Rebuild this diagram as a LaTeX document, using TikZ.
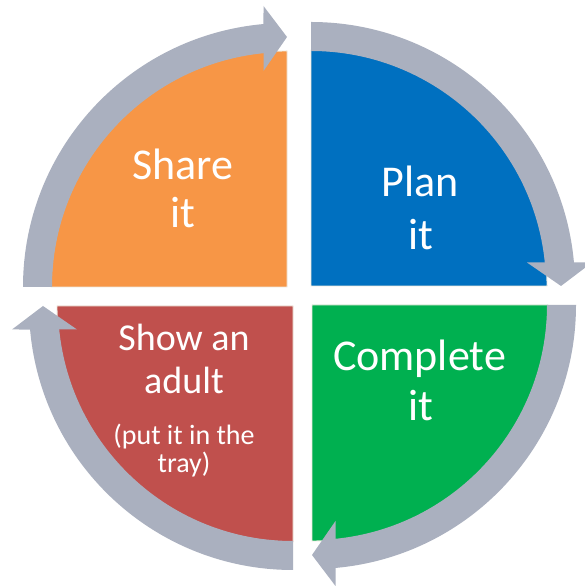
\documentclass[tikz,border=0pt]{standalone}
\usepackage{fontspec}
\setmainfont{Carlito}
\usetikzlibrary{calc}
\definecolor{cOrange}{RGB}{247,150,70}
\definecolor{cBlue}{RGB}{0,112,192}
\definecolor{cGreen}{RGB}{0,176,80}
\definecolor{cRed}{RGB}{192,80,77}
\definecolor{cGray}{RGB}{170,176,191}
\definecolor{cEdge}{RGB}{236,232,220}
\tikzset{
  pie/.style={draw=cEdge, line width=0.9pt},
  ringarrow/.style={fill=cGray},
  lblbig/.style={text=white, anchor=base, inner sep=0pt, font=\fontsize{44}{48}\selectfont},
  lblmid/.style={text=white, anchor=base, inner sep=0pt, font=\fontsize{38}{42}\selectfont},
  lblsmall/.style={text=white, anchor=base, inner sep=0pt, font=\fontsize{28}{30}\selectfont},
}
\newcommand\quadpie[1]{%
  \filldraw[pie, fill=#1] (0,0) -- (180:236) arc[start angle=180, end angle=90, radius=236] -- cycle;}
\newcommand\quadring{%
  \fill[ringarrow] (180:264) arc[start angle=180, end angle=95.11, radius=264]
    -- (-23.5,281) -- (0,250) -- (-23.5,216) -- (95.74:235)
    arc[start angle=95.74, end angle=180, radius=235] -- cycle;}
\begin{document}
\begin{tikzpicture}[x=1pt,y=1pt]
\useasboundingbox (0,0) rectangle (585,586);
\clip (0,0) rectangle (585,586);
\fill[white] (0,0) rectangle (585,586);
% orange (top-left)
\begin{scope}[shift={(287,299)}]
  \quadpie{cOrange}\quadring
\end{scope}
% blue (top-right)
\begin{scope}[shift={(311,300)}, rotate=-90]
  \quadpie{cBlue}\quadring
\end{scope}
% green (bottom-right)
\begin{scope}[shift={(312,281)}, rotate=180]
  \quadpie{cGreen}\quadring
\end{scope}
% red (bottom-left)
\begin{scope}[shift={(293,280)}, rotate=90]
  \quadpie{cRed}\quadring
\end{scope}
% labels
\node[lblbig] (share) at (183,406) {Share};
\node[lblbig] (shareit) at (183,358) {it};
\node[lblbig] (plan) at (420,389) {Plan};
\node[lblbig] (planit) at (421,336) {it};
\node[lblbig] (complete) at (419.5,215) {Complete};
\node[lblbig] (completeit) at (421,165) {it};
\node[lblmid] (show) at (184,235) {Show an};
\node[lblmid] (adult) at (184,192) {adult};
\node[lblsmall] (put) at (184,141) {(put it in the};
\node[lblsmall] (tray) at (184,113) {tray)};
\end{tikzpicture}
\end{document}
